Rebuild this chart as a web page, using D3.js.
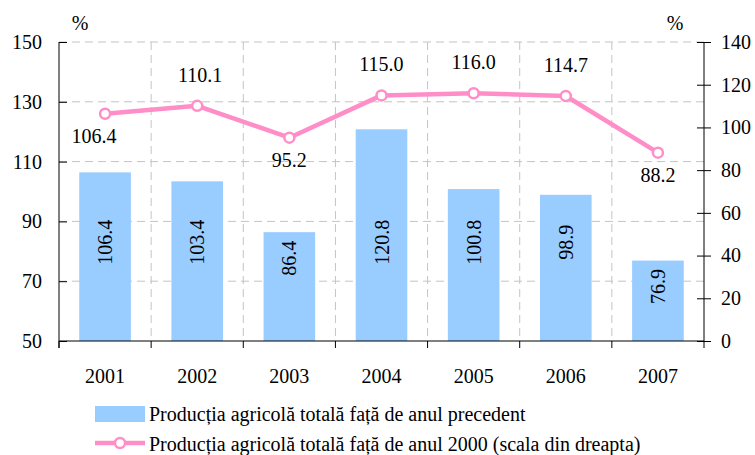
<!DOCTYPE html>
<html>
<head>
<meta charset="utf-8">
<script src="https://cdn.jsdelivr.net/npm/d3@7"></script>
</head>
<body style="margin:0;background:#fff">
<script>
const years = ['2001', '2002', '2003', '2004', '2005', '2006', '2007'];
const prevYear = [106.4, 103.4, 86.4, 120.8, 100.8, 98.9, 76.9];
const vs2000 = [106.4, 110.1, 95.2, 115.0, 116.0, 114.7, 88.2];
const leftTicks = [50, 70, 90, 110, 130, 150];
const rightTicks = [0, 20, 40, 60, 80, 100, 120, 140];
// which line labels sit below their point
const below = [true, false, true, false, false, false, true];
const legendLabels = [
  'Producția agricolă totală față de anul precedent',
  'Producția agricolă totală față de anul 2000 (scala din dreapta)'
];

const width = 755, height = 455;
const pLeft = 59, pRight = 704, pTop = 42, pBottom = 341;
const pink = '#ff8ec8', blue = '#99ccff', grid = '#c4c4c4';
const serif = 'Liberation Serif';

const svg = d3.select('body').append('svg')
  .attr('width', width)
  .attr('height', height)
  .attr('font-family', serif);

const x = d3.scaleBand().domain(years).range([pLeft, pRight])
  .paddingInner(0.44).paddingOuter(0.22);
const edge = d => x(d) - x.step() * x.paddingInner() / 2;

const yL = d3.scaleLinear().domain([50, 150]).range([pBottom, pTop]);
const yR = d3.scaleLinear().domain([0, 140]).range([pBottom, pTop]);

// grid
svg.append('g')
  .selectAll('line')
  .data(leftTicks.slice(1))
  .enter().append('line')
    .attr('x1', pLeft).attr('x2', pRight)
    .attr('y1', d => yL(d)).attr('y2', d => yL(d))
    .attr('stroke', grid).attr('stroke-dasharray', '8,5');

svg.append('g')
  .selectAll('line')
  .data(years.slice(1))
  .enter().append('line')
    .attr('x1', d => edge(d)).attr('x2', d => edge(d))
    .attr('y1', pTop).attr('y2', pBottom)
    .attr('stroke', grid).attr('stroke-dasharray', '8,5');

// bars
svg.append('g')
  .selectAll('rect')
  .data(prevYear)
  .enter().append('rect')
    .attr('x', (d, i) => x(years[i]))
    .attr('width', x.bandwidth())
    .attr('y', d => yL(d))
    .attr('height', d => pBottom - yL(d))
    .attr('fill', blue);

svg.append('g')
  .selectAll('text')
  .data(prevYear)
  .enter().append('text')
    .attr('transform', (d, i) => {
      const cy = Math.max(yL(83), yL(d) + 26);
      return `translate(${x(years[i]) + x.bandwidth() / 2 + 7},${cy}) rotate(-90)`;
    })
    .attr('text-anchor', 'middle')
    .attr('font-family', serif)
    .attr('font-size', 20)
    .text(d => d.toFixed(1));

// axes
const axisL = svg.append('g')
  .attr('transform', `translate(${pLeft},0)`)
  .call(d3.axisLeft(yL).tickValues(leftTicks).tickSize(-8).tickPadding(17));
const axisR = svg.append('g')
  .attr('transform', `translate(${pRight},0)`)
  .call(d3.axisRight(yR).tickValues(rightTicks).tickSize(7).tickPadding(10));
axisR.selectAll('.tick').append('line')
  .attr('x2', -7).attr('stroke', '#000');
const axisB = svg.append('g')
  .attr('transform', `translate(0,${pBottom})`)
  .call(d3.axisBottom(x).tickSize(0).tickPadding(28));
axisB.selectAll('.edge')
  .data(years.concat(['end']))
  .enter().append('line')
    .attr('class', 'edge')
    .attr('x1', d => d === 'end' ? pRight : edge(d))
    .attr('x2', d => d === 'end' ? pRight : edge(d))
    .attr('y1', 0).attr('y2', 7)
    .attr('stroke', '#000');

[axisL, axisR, axisB].forEach(a => {
  a.attr('font-family', serif).attr('font-size', 20);
  a.select('.domain').attr('stroke', '#000');
  a.selectAll('.tick line').attr('stroke', '#000');
  a.selectAll('text')
    .attr('font-family', serif)
    .attr('font-size', 20)
    .attr('fill', '#000');
});
axisB.select('.domain').attr('d', `M${pLeft},0H${pRight}`);
axisL.select('.domain').attr('d', `M0,${pTop}V${pBottom + 7}`);
axisR.select('.domain').attr('d', `M0,${pTop}V${pBottom}`);

svg.append('text').attr('x', 80).attr('y', 30).attr('text-anchor', 'middle')
  .attr('font-family', serif).attr('font-size', 20).text('%');
svg.append('text').attr('x', 675).attr('y', 30).attr('text-anchor', 'middle')
  .attr('font-family', serif).attr('font-size', 20).text('%');

// line
const cx = d => x(d) + x.bandwidth() / 2;
const line = d3.line()
  .x((d, i) => cx(years[i]))
  .y(d => yR(d));

svg.append('path')
  .datum(vs2000)
  .attr('d', line)
  .attr('fill', 'none')
  .attr('stroke', pink)
  .attr('stroke-width', 4.5)
  .attr('stroke-linejoin', 'round');

svg.append('g')
  .selectAll('circle')
  .data(vs2000)
  .enter().append('circle')
    .attr('cx', (d, i) => cx(years[i]))
    .attr('cy', d => yR(d))
    .attr('r', 5)
    .attr('fill', '#fff')
    .attr('stroke', pink)
    .attr('stroke-width', 2.5);

svg.append('g')
  .selectAll('text')
  .data(vs2000)
  .enter().append('text')
    .attr('x', (d, i) => cx(years[i]) - (i === 0 ? 11 : 0) + (i === 1 ? 3 : 0))
    .attr('y', (d, i) => yR(d) + (below[i] ? 29 : -24))
    .attr('text-anchor', 'middle')
    .attr('font-family', serif)
    .attr('font-size', 20)
    .text(d => d.toFixed(1));

// legend
const legend = svg.append('g');
legend.append('rect')
  .attr('x', 95).attr('y', 406).attr('width', 50).attr('height', 16)
  .attr('fill', blue);
legend.append('line')
  .attr('x1', 95).attr('x2', 145).attr('y1', 443).attr('y2', 443)
  .attr('stroke', pink).attr('stroke-width', 4.5);
legend.append('circle')
  .attr('cx', 120).attr('cy', 443).attr('r', 5)
  .attr('fill', '#fff').attr('stroke', pink).attr('stroke-width', 2.5);
legend.selectAll('.lab')
  .data(legendLabels)
  .enter().append('text')
    .attr('class', 'lab')
    .attr('x', 149)
    .attr('y', (d, i) => 421 + i * 30)
    .attr('font-family', serif)
    .attr('font-size', 20)
    .text(d => d);
</script>
</body>
</html>
